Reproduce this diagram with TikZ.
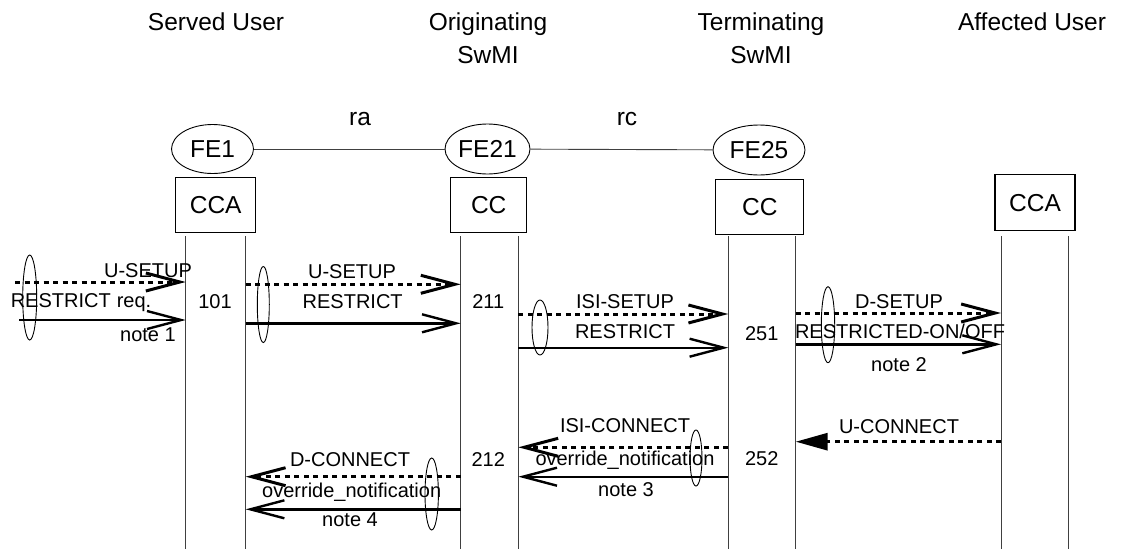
\documentclass[tikz,border=0pt]{standalone}
\usepackage{fontspec}
\setmainfont{Liberation Sans}
\usetikzlibrary{arrows.meta,shapes.geometric}

\newcommand{\hdfont}{\fontsize{24.5}{33.3}\selectfont}
\newcommand{\msgfont}{\fontsize{20}{24}\selectfont}

\tikzset{
  fe/.style={draw, ellipse, line width=0.9pt, inner sep=0pt, font=\hdfont},
  fa/.style={draw, line width=1.1pt, inner sep=0pt, font=\hdfont},
  life/.style={line width=1pt, black!75},
  sig/.style={line width=2.4pt, -{Straight Barb[length=34pt,width=18pt]}},
  sigd/.style={sig, line width=3pt, dash pattern=on 5pt off 4.5pt},
  sigf/.style={line width=3pt, dash pattern=on 5pt off 4.5pt, -{Triangle[length=32pt,width=17pt]}},
  msg/.style={font=\msgfont, inner sep=0pt, text height=14.4pt, text depth=0pt},
  grp/.style={line width=0.9pt}
}

\begin{document}
\begin{tikzpicture}[x=1pt,y=-1pt]
\useasboundingbox (0,0) rectangle (1122,549);

% Headers
\node[font=\hdfont] (hsu) at (216,22) {Served User};
\node[font=\hdfont, align=center] (hos) at (488,38.3) {Originating\\SwMI};
\node[font=\hdfont, align=center] (hts) at (761,38.3) {Terminating\\SwMI};
\node[font=\hdfont] (hau) at (1032,22) {Affected User};

% Relationships
\node[font=\hdfont] (ra) at (360,119) {ra};
\node[font=\hdfont] (rc) at (627,119) {rc};

% Functional entities
\node[fe, minimum width=82pt, minimum height=49pt] (fe1) at (212.5,149) {FE1};
\node[fe, minimum width=85pt, minimum height=50pt] (fe21) at (487.5,149) {FE21};
\node[fe, minimum width=92pt, minimum height=50pt] (fe25) at (759,150) {FE25};
\draw[line width=0.9pt, black!75] (fe1) -- (fe21);
\draw[line width=0.9pt, black!75] (fe21) -- (fe25);

\node[fa, minimum width=80pt, minimum height=55pt] (cca1) at (215.7,204.8) {CCA};
\node[fa, minimum width=76pt, minimum height=55pt] (cc21) at (488.7,204.8) {CC};
\node[fa, minimum width=88pt, minimum height=55pt] (cc25) at (759.9,206.7) {CC};
\node[fa, minimum width=80pt, minimum height=56pt] (cca2) at (1035,202.7) {CCA};

% Lifelines
\foreach \n/\x in {sua/185.7, sub/245.7, osa/460.7, osb/518.3, tsa/728.3, tsb/795.7, aua/1001, aub/1068.3} {
    \coordinate (\n) at (\x,236);
    \draw[life] (\n) -- (\n |- 0,549);
}

% Setup towards the originating SwMI
\coordinate (in1) at (15,282);
\coordinate (in2) at (19,320);
\draw[sigd] (in1) -- (sua |- in1);
\draw[sig] (in2) -- (sua |- in2);
\node[msg] (m1) at (148,270) {U-SETUP};
\node[msg] (m2) at (81,300) {RESTRICT\hspace{0.3em}req.};
\node[msg] (m3) at (148,334) {note 1};
\draw[grp] (29.7,297.5) ellipse [x radius=7pt, y radius=42.5pt];

\draw[sigd] (sub |- 0,284.3) -- (osa |- 0,284.3);
\draw[sig] (sub |- 0,323.3) -- (osa |- 0,323.3);
\node[msg] (m4) at (352,271) {U-SETUP};
\node[msg] (m5) at (352.7,301) {RESTRICT};
\draw[grp] (263.3,304.5) ellipse [x radius=6pt, y radius=38pt];

% Setup towards the terminating SwMI
\draw[sigd] (osb |- 0,314) -- (tsa |- 0,314);
\draw[sig] (osb |- 0,347.7) -- (tsa |- 0,347.7);
\node[msg] (m6) at (625,301.7) {ISI-SETUP};
\node[msg] (m7) at (625,331.7) {RESTRICT};
\draw[grp] (540,327.5) ellipse [x radius=8pt, y radius=27.5pt];

% Setup towards the affected user
\draw[sigd] (tsb |- 0,313) -- (aua |- 0,313);
\draw[sig] (tsb |- 0,344.3) -- (aua |- 0,344.3);
\node[msg] (m8) at (899,301) {D-SETUP};
\node[msg] (m9) at (900,331.7) {RESTRICTED-ON/OFF};
\node[msg] (m10) at (899,364) {note 2};
\draw[grp] (828,324.7) ellipse [x radius=6.7pt, y radius=38pt];

% Connect back
\draw[sigf] (aua |- 0,441.7) -- (tsb |- 0,441.7);
\node[msg] (m11) at (899,426) {U-CONNECT};

\draw[sigd] (tsa |- 0,447.3) -- (osb |- 0,447.3);
\draw[sig] (tsa |- 0,476.7) -- (osb |- 0,476.7);
\node[msg] (m12) at (625,425) {ISI-CONNECT};
\node[msg] (m13) at (625,458.3) {override\_notification};
\node[msg] (m14) at (626,489.3) {note 3};
\draw[grp] (696,458) ellipse [x radius=6pt, y radius=28pt];

\draw[sigd] (osa |- 0,476.7) -- (sub |- 0,476.7);
\draw[sig] (osa |- 0,509.3) -- (sub |- 0,509.3);
\node[msg] (m15) at (350,459.3) {D-CONNECT};
\node[msg] (m16) at (351.7,490) {override\_notification};
\node[msg] (m17) at (350,519.3) {note 4};
\draw[grp] (431.7,494) ellipse [x radius=6.7pt, y radius=36pt];

% Numbers
\node[msg] (n101) at (215,301.7) {101};
\node[msg] (n211) at (488.3,301.7) {211};
\node[msg] (n251) at (761.7,333) {251};
\node[msg] (n252) at (761.7,458.3) {252};
\node[msg] (n212) at (488.3,459.3) {212};
\end{tikzpicture}
\end{document}
